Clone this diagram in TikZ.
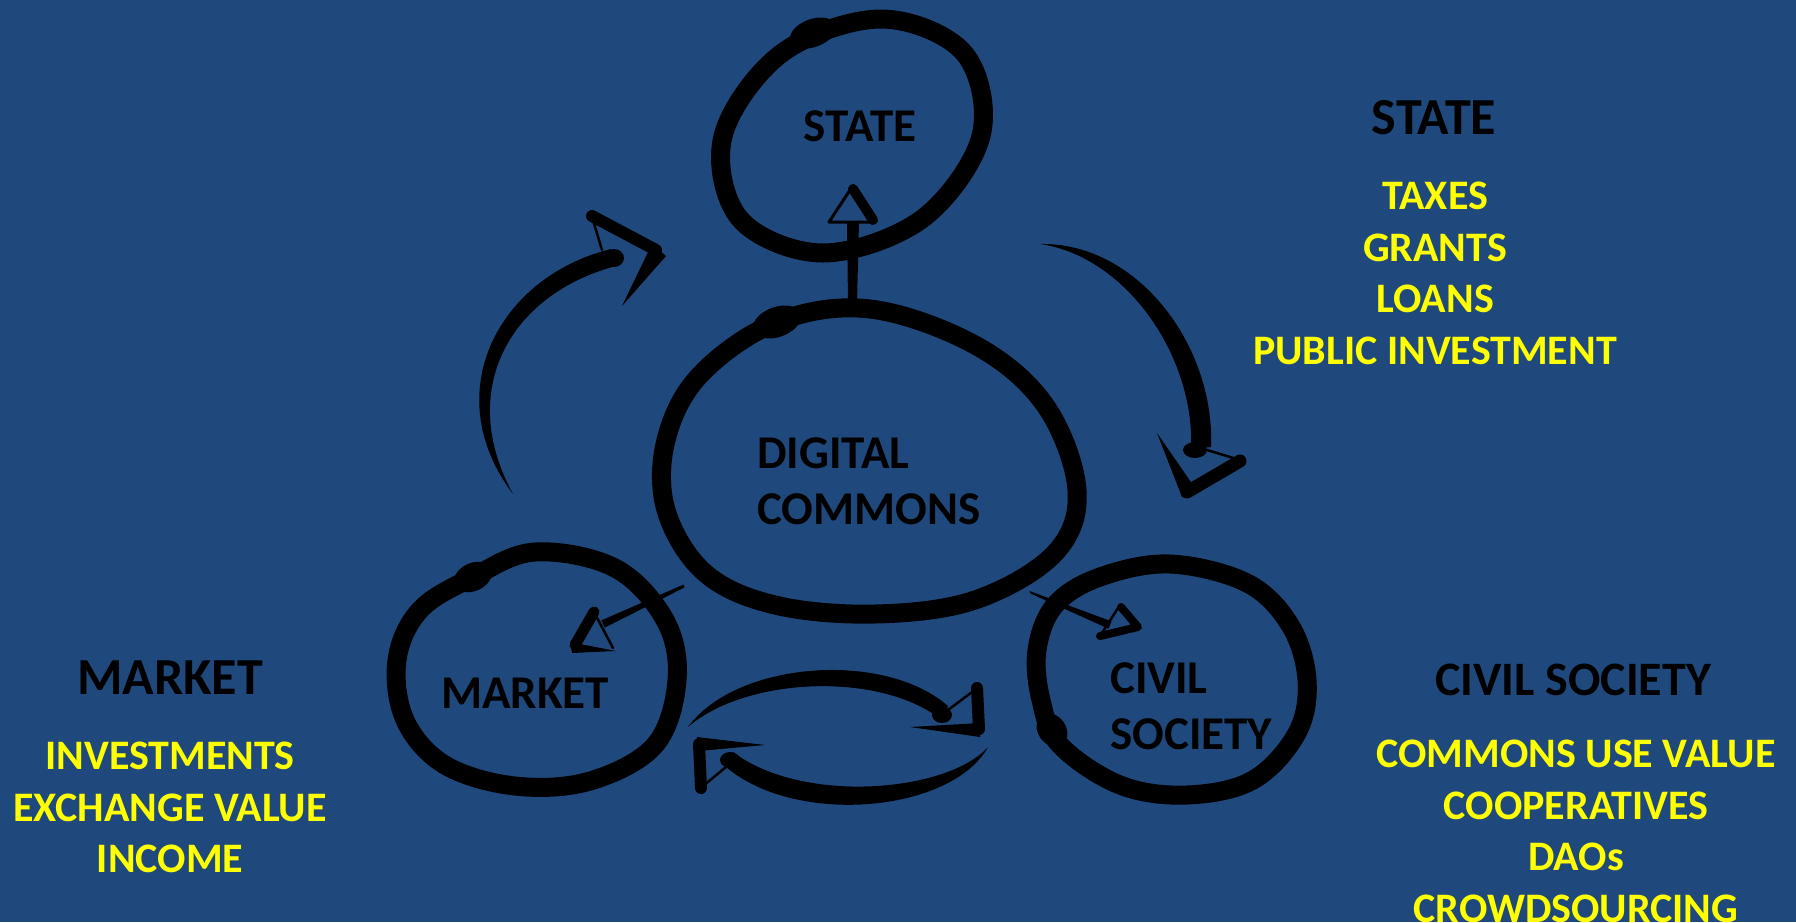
\documentclass[tikz,border=0pt]{standalone}
\usepackage{fontspec}
\setmainfont{Carlito}
\definecolor{bgblue}{HTML}{1F497D}
\definecolor{hiyellow}{HTML}{FFFF00}

\begin{document}
\begin{tikzpicture}[x=1pt,y=-1pt,
   ring/.style={line width=19pt, line join=round},
   brush/.style={line width=#1pt, line cap=round, line join=round},
   label/.style={font=\fontsize{47}{56}\selectfont\bfseries, inner sep=0pt},
   head/.style={font=\fontsize{52}{62}\selectfont\bfseries, inner sep=0pt},
   item/.style={font=\fontsize{42}{51.5}\selectfont\bfseries, text=hiyellow, align=center, inner sep=0pt}]
   \useasboundingbox (0,0) rectangle (1796,922);
   \fill[bgblue] (0,0) rectangle (1796,922);

   % rings
   \draw[ring] plot[smooth cycle, tension=0.58] coordinates {(981,136) (964,53) (881,19) (782,53) (723,136) (740,219) (823,253) (922,219)};
   \fill[rotate around={20:(813,33)}] (813,33) ellipse [x radius=24, y radius=14];
   \draw[ring] plot[smooth cycle, tension=0.6] coordinates {(777,322) (870,309) (975,345) (1045,405) (1077,490) (1055,553) (975,600) (875,614) (775,605) (705,573) (666,510) (666,440) (700,375)};
   \fill[rotate around={20:(777,322)}] (777,322) ellipse [x radius=25, y radius=15];
   \draw[ring] plot[smooth cycle, tension=0.6] coordinates {(473,577) (535,552) (615,568) (665,620) (677,680) (655,745) (590,781) (515,786) (445,765) (405,720) (397,660) (420,610)};
   \fill[rotate around={25:(473,577)}] (473,577) ellipse [x radius=20, y radius=14];
   \draw[ring] plot[smooth cycle, tension=0.6] coordinates {(1170,564) (1247,583) (1290,625) (1307,680) (1297,733) (1253,780) (1187,795) (1120,785) (1060,745) (1041,700) (1037,650) (1055,605) (1100,577)};
   \fill[rotate around={-55:(1052,730)}] (1052,730) ellipse [x radius=18, y radius=14];

   % straight arrows out of the commons
   \fill (848,303) -- (857,303) -- (859,222) -- (847,222) -- cycle;
   \draw[brush=3] (829,222) -- (852,187) -- (874,222) -- cycle;
   \draw[brush=10] (853,189) -- (873,220);
   \fill (684.6,587.4) -- (683.4,584.6) -- (601.3,620.4) -- (604.7,627.6) -- cycle;
   \draw[brush=11] (594,612) -- (575,645);
   \fill (570,642) -- (616,651) -- (572,653) -- cycle;
   \draw[brush=2.5] (594,612) -- (613,648);
   \fill (1029.5,591) -- (1030.5,593.5) -- (1108.5,628.7) -- (1111.5,621.3) -- cycle;
   \draw[brush=8] (1121,607) -- (1138,627) -- (1100,636);
   \draw[brush=2.5] (1100,636) -- (1120,605);

   % curved arrows
   \fill (1040,244) .. controls (1137,242) and (1215,345) .. (1211,447) -- (1191,449) .. controls (1195,355) and (1125,256) .. (1040,244) -- cycle;
   \fill (1195,450) ellipse [x radius=12, y radius=8];
   \fill (1157,433) -- (1195,488) -- (1182,497) -- cycle;
   \draw[brush=13] (1187,492) -- (1240,461);
   \draw[brush=2.5] (1240,460) -- (1207,450);
   \fill (513,494) .. controls (436,392) and (500,276) .. (611,249) -- (616,266) .. controls (510,294) and (456,390) .. (513,494) -- cycle;
   \fill (614,258) ellipse [x radius=10, y radius=9];
   \draw[brush=12] (592,216) -- (656,250);
   \fill (652,244) -- (666,256) -- (622,306) -- cycle;
   \draw[brush=2.5] (593,220) -- (602,250);
   \fill (688,727) .. controls (736,661) and (884,650) .. (948,706) -- (942,720) .. controls (878,670) and (744,678) .. (688,727) -- cycle;
   \fill (942,715) ellipse [x radius=10, y radius=8];
   \draw[brush=12] (977,688) -- (979,729);
   \fill (910,727) -- (980,723) -- (980,737) -- cycle;
   \draw[brush=2.5] (976,689) -- (948,710);
   \fill (988,747) .. controls (952,812) and (797,827) .. (726,767) -- (733,752) .. controls (803,805) and (948,792) .. (988,747) -- cycle;
   \fill (730,760) ellipse [x radius=10, y radius=8];
   \draw[brush=12] (699,744) -- (701,788);
   \fill (765,745) -- (697,737) -- (699,751) -- cycle;
   \draw[brush=2.5] (703,786) -- (726,767);

   % labels
   \node[label] (state) at (860,126) {STATE};
   \node[label, align=left, anchor=north west] (commons) at (757,437) {DIGITAL\\COMMONS};
   \node[label] (market) at (525,693) {MARKET};
   \node[label, align=left, anchor=north west] (civil) at (1110,662) {CIVIL\\SOCIETY};
   \node[head] (statehead) at (1434,118) {STATE};
   \node[item, anchor=north] (statelist) at (1435,182) {TAXES\\GRANTS\\LOANS\\PUBLIC INVESTMENT};
   \node[head] (markethead) at (170,678) {MARKET};
   \node[item, anchor=north] (marketlist) at (170,742) {INVESTMENTS\\EXCHANGE VALUE\\INCOME};
   \node[head, font=\fontsize{48}{58}\selectfont\bfseries] (civilhead) at (1573,680) {CIVIL SOCIETY};
   \node[item, anchor=north] (civillist) at (1576,740) {COMMONS USE VALUE\\COOPERATIVES\\DAOs\\CROWDSOURCING};
\end{tikzpicture}
\end{document}
